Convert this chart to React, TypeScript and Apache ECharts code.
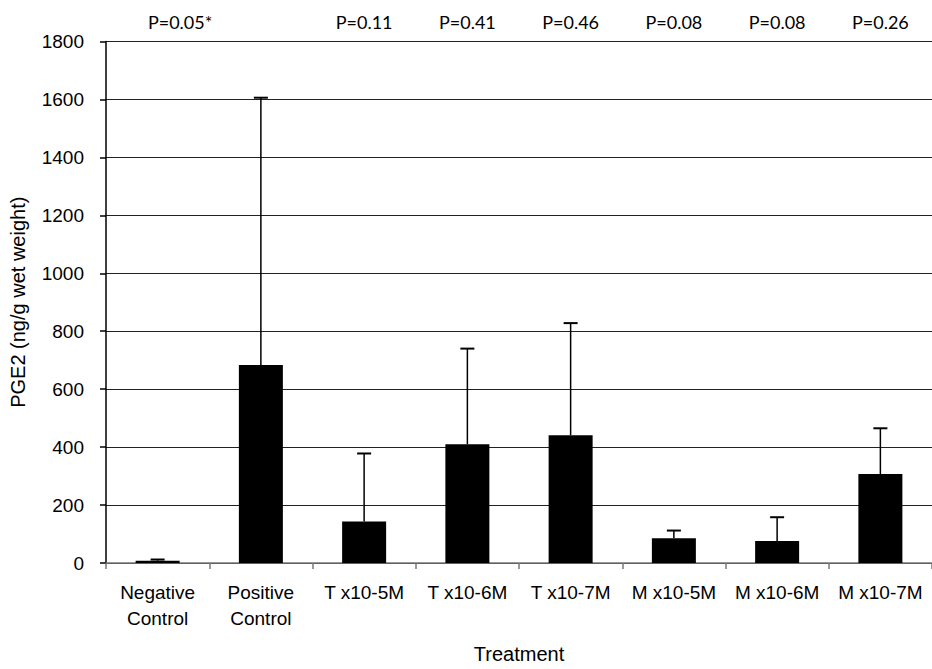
import React, { useEffect, useRef } from "react";
import * as echarts from "echarts";

const categories = [
  "Negative\nControl",
  "Positive\nControl",
  "T x10-5M",
  "T x10-6M",
  "T x10-7M",
  "M x10-5M",
  "M x10-6M",
  "M x10-7M",
];
const means = [8, 683, 143, 410, 441, 85, 76, 307];
const upperErr = [12, 1606, 378, 740, 828, 112, 158, 465];
const pLabels = ["P=0.05*", "", "P=0.11", "P=0.41", "P=0.46", "P=0.08", "P=0.08", "P=0.26"];
const yTicks = { min: 0, max: 1800, interval: 200 };

export default function App() {
  const ref = useRef<HTMLDivElement>(null);
  useEffect(() => {
    if (!ref.current) return;
    const chart = echarts.init(ref.current, undefined, { renderer: "svg", width: 932, height: 669 });
    const font = "Liberation Sans";
    const pFont = "Lato";
    chart.setOption({
      animation: false,
      backgroundColor: "#fff",
      grid: { left: 106, top: 41.5, width: 834, height: 527, containLabel: false },
      xAxis: [
        {
          type: "category",
          data: categories,
          position: "bottom",
          axisLine: { lineStyle: { color: "#777", width: 1.5 } },
          axisTick: { show: true, length: 6, lineStyle: { color: "#777", width: 1.5 } },
          axisLabel: {
            color: "#000",
            fontFamily: font,
            fontSize: 19,
            lineHeight: 26,
            margin: 16,
            interval: 0,
          },
          name: "Treatment",
          nameLocation: "middle",
          nameGap: 81,
          nameTextStyle: { color: "#000", fontFamily: font, fontSize: 20 },
        },
        {
          type: "category",
          data: pLabels,
          position: "top",
          axisLine: { show: false },
          axisTick: { show: false },
          axisLabel: {
            interval: 0,
            margin: 11,
            color: "#000",
            fontFamily: pFont,
            fontSize: 18,
            formatter: (v: string, i: number) => (i === 0 ? "{s|" + v + "}" : v),
            rich: { s: { padding: [0, 0, 0, 45], fontSize: 18, fontFamily: pFont, color: "#000" } },
          },
        },
      ],
      yAxis: {
        type: "value",
        min: yTicks.min,
        max: yTicks.max,
        interval: yTicks.interval,
        axisLine: { show: true, lineStyle: { color: "#000", width: 1.5 } },
        axisTick: { show: true, length: 6, lineStyle: { color: "#000", width: 1.5 } },
        axisLabel: {
          color: "#000",
          fontFamily: font,
          fontSize: 19,
          margin: 22,
          formatter: (v: number) => String(v),
        },
        splitLine: { lineStyle: { color: "#222", width: 1 } },
        name: "PGE2 (ng/g wet weight)",
        nameLocation: "middle",
        nameGap: 78,
        nameTextStyle: { color: "#000", fontFamily: font, fontSize: 20 },
      },
      series: [
        {
          type: "bar",
          data: means,
          barWidth: 44,
          itemStyle: { color: "#000" },
          z: 2,
        },
        {
          type: "custom",
          data: upperErr.map((u, i) => [i, means[i], u]),
          z: 3,
          renderItem: (params: any, api: any) => {
            const i = api.value(0);
            const base = api.coord([i, api.value(1)]);
            const top = api.coord([i, api.value(2)]);
            const half = 7;
            return {
              type: "group",
              children: [
                {
                  type: "line",
                  shape: { x1: base[0], y1: base[1], x2: top[0], y2: top[1] },
                  style: { stroke: "#000", lineWidth: 1.5 },
                },
                {
                  type: "line",
                  shape: { x1: top[0] - half, y1: top[1], x2: top[0] + half, y2: top[1] },
                  style: { stroke: "#000", lineWidth: 2 },
                },
              ],
            };
          },
        },
      ],
    });
    return () => chart.dispose();
  }, []);
  return (
    <div
      ref={ref}
      style={{ position: "fixed", left: 0, top: 0, width: 932, height: 669, background: "#fff" }}
    />
  );
}
